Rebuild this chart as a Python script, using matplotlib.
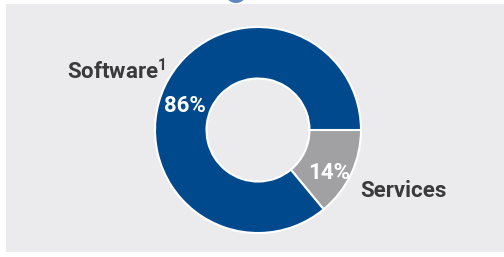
import matplotlib
matplotlib.use("Agg")
import matplotlib.pyplot as plt
from matplotlib.patches import Rectangle, Ellipse

labels = ["Services", "Software"]
values = [14, 86]
pct_labels = ["14%", "86%"]
colors = ["#A1A1A4", "#00498D"]

W, H = 504, 257
fig = plt.figure(figsize=(W / 100, H / 100), dpi=100)
fig.patch.set_facecolor("white")

# gray panel
fig.patches.append(Rectangle((6 / W, 5 / H), (W - 6) / W, 248 / H,
                             transform=fig.transFigure, facecolor="#EBEBED",
                             edgecolor="none", zorder=-2))

# small cut-off blue shape at top (from slide)
fig.patches.append(Ellipse((236 / W, (H + 8) / H), 22 / W, 22 / H,
                           transform=fig.transFigure, facecolor="#5A88BC",
                           edgecolor="none", zorder=-1))

cx, cy, r = 258, H - 130, 103
ax = fig.add_axes([(cx - r) / W, (cy - r) / H, 2 * r / W, 2 * r / H])
ax.set_axis_off()
ax.pie(values, colors=colors, startangle=0, counterclock=False, radius=1,
       wedgeprops=dict(width=0.5, edgecolor="white", linewidth=1.5))
ax.set_xlim(-1.0, 1.0)
ax.set_ylim(-1.0, 1.0)
ax.set_aspect("equal")

fam = ["Liberation Sans Narrow", "Roboto", "Liberation Sans", "DejaVu Sans"]
fs = 16
dark = "#3A3A3C"

def px(x, y):
    return x / W, (H - y) / H

fig.text(*px(67, 72), "Software$^{\\mathregular{1}}$", ha="left", va="center",
         fontsize=fs, fontweight="bold", color=dark, family=fam)
fig.text(*px(360, 191), labels[0], ha="left", va="center",
         fontsize=fs, fontweight="bold", color=dark, family=fam)
fig.text(*px(185, 106), pct_labels[1], ha="center", va="center",
         fontsize=fs, fontweight="bold", color="white", family=fam)
fig.text(*px(329, 173), pct_labels[0], ha="center", va="center",
         fontsize=fs, fontweight="bold", color="white", family=fam)

fig.savefig("out.png", dpi=100, facecolor=fig.get_facecolor())
